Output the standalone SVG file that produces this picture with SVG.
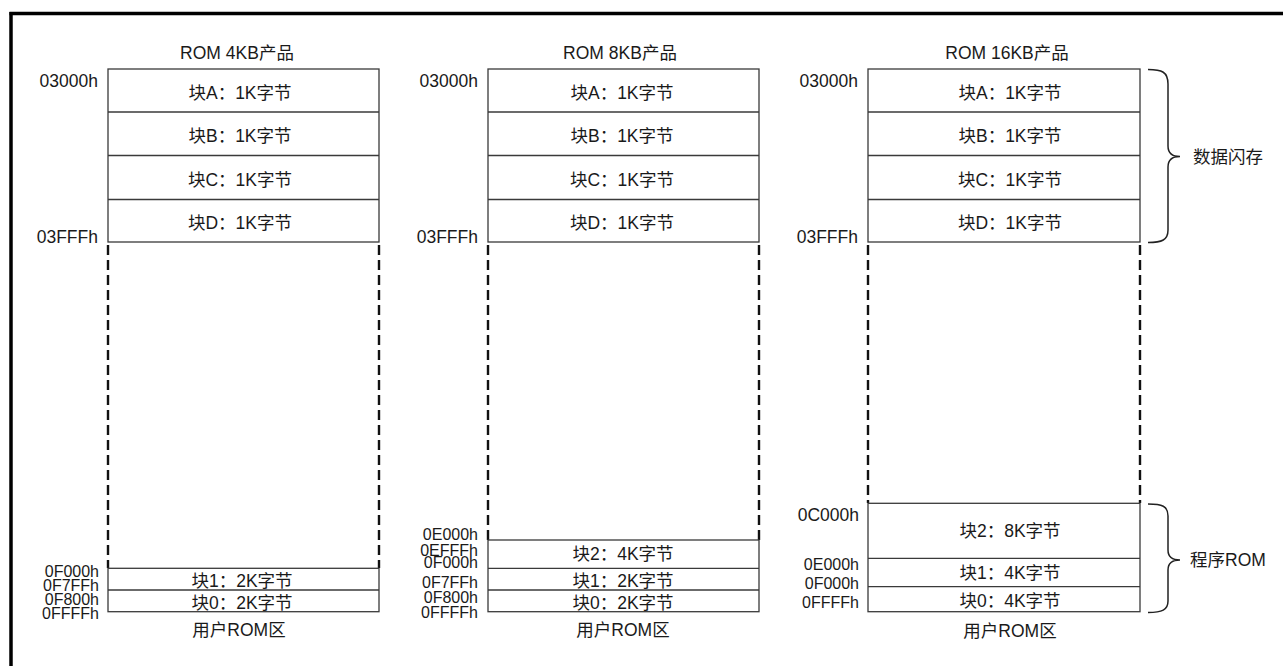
<svg xmlns="http://www.w3.org/2000/svg" width="1283" height="666" viewBox="0 0 1283 666">
<style>
text{font-family:"Liberation Sans","Noto Sans CJK SC",sans-serif;font-size:17.5px;fill:#1a1a1a}
.m{text-anchor:middle}
.e{text-anchor:end}
.s{font-size:16px}
.box{fill:#fff;stroke:#3a3a3a;stroke-width:1.3}
.ln{stroke:#3a3a3a;stroke-width:1.3;fill:none}
.dash{stroke:#111;stroke-width:2.4;stroke-dasharray:10 5;fill:none}
.brace{stroke:#222;stroke-width:1.5;fill:none}
</style>
<rect x="0" y="0" width="1283" height="666" fill="#fff"/>
<g id="frame">
<line x1="11" y1="12" x2="11" y2="666" stroke="#000" stroke-width="3.5"/>
<line x1="9.5" y1="13.5" x2="1283" y2="13.5" stroke="#000" stroke-width="3.5"/>
</g>

<g id="col1">
<text class="m" x="237" y="59">ROM 4KB产品</text>
<rect class="box" x="108" y="69" width="271" height="173"/>
<line class="ln" x1="108" y1="112" x2="379" y2="112"/>
<line class="ln" x1="108" y1="155.5" x2="379" y2="155.5"/>
<line class="ln" x1="108" y1="199.5" x2="379" y2="199.5"/>
<text class="m" x="240" y="98.5">块A：1K字节</text>
<text class="m" x="240" y="142">块B：1K字节</text>
<text class="m" x="240" y="185.5">块C：1K字节</text>
<text class="m" x="240" y="229">块D：1K字节</text>
<text class="e" x="98" y="86.5">03000h</text>
<text class="e" x="98" y="243">03FFFh</text>
<line class="dash" x1="108" y1="245" x2="108" y2="568"/>
<line class="dash" x1="379" y1="245" x2="379" y2="568"/>
<rect class="box" x="108" y="568.3" width="271" height="43.4"/>
<line class="ln" x1="108" y1="590" x2="379" y2="590"/>
<text class="m" x="242" y="587">块1：2K字节</text>
<text class="m" x="242" y="609">块0：2K字节</text>
<text class="e s" x="99" y="577">0F000h</text>
<text class="e s" x="99" y="591">0F7FFh</text>
<text class="e s" x="99" y="605">0F800h</text>
<text class="e s" x="99" y="619">0FFFFh</text>
<text class="m" x="239" y="636">用户ROM区</text>
</g>

<g id="col2">
<text class="m" x="620" y="59">ROM 8KB产品</text>
<rect class="box" x="488" y="69" width="271" height="173"/>
<line class="ln" x1="488" y1="112" x2="759" y2="112"/>
<line class="ln" x1="488" y1="155.5" x2="759" y2="155.5"/>
<line class="ln" x1="488" y1="199.5" x2="759" y2="199.5"/>
<text class="m" x="622" y="98.5">块A：1K字节</text>
<text class="m" x="622" y="142">块B：1K字节</text>
<text class="m" x="622" y="185.5">块C：1K字节</text>
<text class="m" x="622" y="229">块D：1K字节</text>
<text class="e" x="478" y="86.5">03000h</text>
<text class="e" x="478" y="243">03FFFh</text>
<line class="dash" x1="488" y1="245" x2="488" y2="540"/>
<line class="dash" x1="759" y1="245" x2="759" y2="540"/>
<rect class="box" x="488" y="540" width="271" height="71.7"/>
<line class="ln" x1="488" y1="568.3" x2="759" y2="568.3"/>
<line class="ln" x1="488" y1="590" x2="759" y2="590"/>
<text class="m" x="623" y="560">块2：4K字节</text>
<text class="m" x="623" y="587">块1：2K字节</text>
<text class="m" x="623" y="609">块0：2K字节</text>
<text class="e s" x="478" y="540">0E000h</text>
<text class="e s" x="478" y="555.5">0EFFFh</text>
<text class="e s" x="478" y="568">0F000h</text>
<text class="e s" x="478" y="588">0F7FFh</text>
<text class="e s" x="478" y="603">0F800h</text>
<text class="e s" x="478" y="618">0FFFFh</text>
<text class="m" x="623" y="636">用户ROM区</text>
</g>

<g id="col3">
<text class="m" x="1007" y="59">ROM 16KB产品</text>
<rect class="box" x="868" y="69" width="272" height="173"/>
<line class="ln" x1="868" y1="112" x2="1140" y2="112"/>
<line class="ln" x1="868" y1="155.5" x2="1140" y2="155.5"/>
<line class="ln" x1="868" y1="199.5" x2="1140" y2="199.5"/>
<text class="m" x="1010" y="98.5">块A：1K字节</text>
<text class="m" x="1010" y="142">块B：1K字节</text>
<text class="m" x="1010" y="185.5">块C：1K字节</text>
<text class="m" x="1010" y="229">块D：1K字节</text>
<text class="e" x="858" y="86.5">03000h</text>
<text class="e" x="858" y="243">03FFFh</text>
<line class="dash" x1="868" y1="245" x2="868" y2="503"/>
<line class="dash" x1="1140" y1="245" x2="1140" y2="503"/>
<rect class="box" x="868" y="503.3" width="272" height="108.4"/>
<line class="ln" x1="868" y1="558.3" x2="1140" y2="558.3"/>
<line class="ln" x1="868" y1="586.7" x2="1140" y2="586.7"/>
<text class="m" x="1010" y="537">块2：8K字节</text>
<text class="m" x="1010" y="579">块1：4K字节</text>
<text class="m" x="1010" y="607">块0：4K字节</text>
<text class="e" x="859" y="520.5">0C000h</text>
<text class="e s" x="859" y="570">0E000h</text>
<text class="e s" x="859" y="589">0F000h</text>
<text class="e s" x="859" y="608">0FFFFh</text>
<text class="m" x="1010" y="636.5">用户ROM区</text>
</g>

<g id="connectors">
<path class="brace" d="M1148,69.5 C1162,69.5 1168,72 1168,84 L1168,146 C1168,153 1172,156.5 1180,156.5 C1172,156.5 1168,160 1168,167 L1168,230 C1168,240 1162,242.5 1148,242.5"/>
<path class="brace" d="M1148,504 C1162,504 1168,506 1168,516 L1168,550 C1168,556 1172,560 1180,560 C1172,560 1168,564 1168,570 L1168,601 C1168,610 1162,612.5 1148,612.5"/>
</g>
<g id="labels">
<text x="1193" y="163">数据闪存</text>
<text x="1190" y="566">程序ROM</text>
</g>
</svg>
